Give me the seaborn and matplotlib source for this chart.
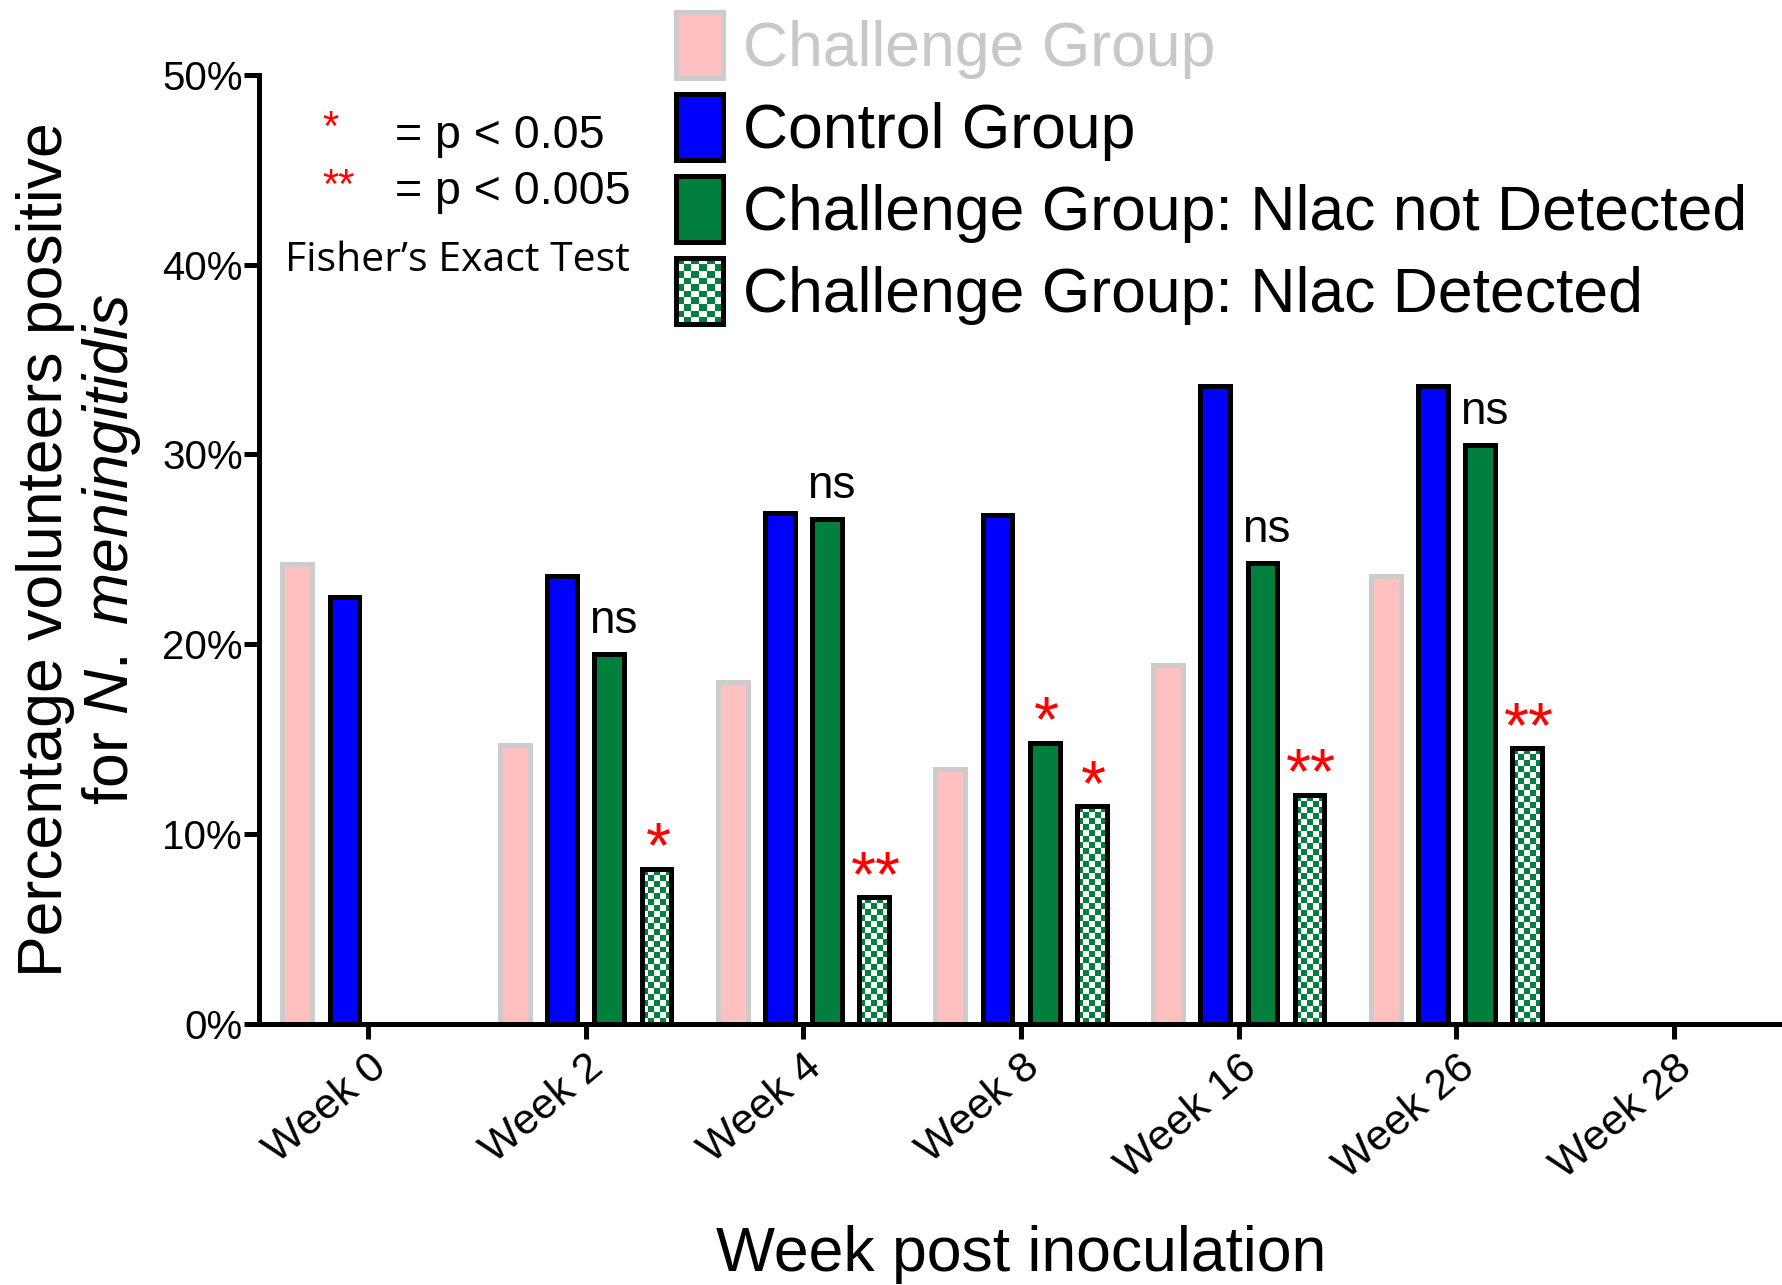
import numpy as np
import pandas as pd
import seaborn as sns
import matplotlib.pyplot as plt
from matplotlib.patches import Patch, Rectangle
from matplotlib.legend_handler import HandlerBase
from matplotlib.colors import ListedColormap
from matplotlib.ticker import PercentFormatter

# data (percent positive)
weeks = ['Week 0', 'Week 2', 'Week 4', 'Week 8', 'Week 16', 'Week 26', 'Week 28']
groups = ['Challenge Group', 'Control Group',
          'Challenge Group: Nlac not Detected', 'Challenge Group: Nlac Detected']
challenge = [24.2, 14.7, 18.0, 13.4, 18.9, 23.6, np.nan]
control = [22.5, 23.6, 26.9, 26.8, 33.6, 33.6, np.nan]
nlac_not_detected = [np.nan, 19.5, 26.6, 14.8, 24.3, 30.5, np.nan]
nlac_detected = [np.nan, 8.15, 6.65, 11.45, 12.05, 14.5, np.nan]
sig_not_detected = ['', 'ns', 'ns', '*', 'ns', 'ns', '']
sig_detected = ['', '*', '**', '*', '**', '**', '']

green = '#00803C'
face = ['#FFC1BF', '#0000FF', green, 'white']
edge = ['#CCCCCC', 'black', 'black', 'black']
lw = 3.6

rows = []
for g, vals in zip(groups, [challenge, control, nlac_not_detected, nlac_detected]):
    for w, v in zip(weeks, vals):
        rows.append({'week': w, 'group': g, 'value': v})
df = pd.DataFrame(rows).dropna()

sns.set_style('ticks')
plt.rcParams['font.family'] = ['Liberation Sans', 'DejaVu Sans']
plt.rcParams['mathtext.fontset'] = 'custom'
plt.rcParams['mathtext.rm'] = 'Liberation Sans'
plt.rcParams['mathtext.it'] = 'Liberation Sans:italic'
for k in ['text.color', 'axes.labelcolor', 'xtick.color', 'ytick.color', 'axes.edgecolor']:
    plt.rcParams[k] = 'black'

fig = plt.figure(figsize=(17.83, 12.85), dpi=100)
ax = fig.add_axes([0.1454, 0.2035, 0.8546, 0.7381])

sns.barplot(data=df, x='week', y='value', hue='group', order=weeks, hue_order=groups,
            palette=dict(zip(groups, face)), saturation=1, width=0.867, gap=0.37,
            errorbar=None, legend=False, ax=ax)

ax.set_xlim(-0.5, 6.5)
ax.set_ylim(0, 50)

for cont, ec in zip(ax.containers, edge):
    for p in cont:
        p.set_edgecolor(ec)
        p.set_linewidth(lw)
        p.set_zorder(3)

# checkerboard fill for the "Nlac Detected" bars
cell = 6.0
checker_cmap = ListedColormap(['white', green])
for p in ax.containers[3]:
    x0, w, h = p.get_x(), p.get_width(), p.get_height()
    (px0, py0), (px1, py1) = ax.transData.transform([(x0, 0), (x0 + w, h)])
    ncol = max(1, int(round((px1 - px0) / cell)))
    nrow = max(1, int(round((py1 - py0) / cell)))
    board = np.indices((nrow, ncol)).sum(axis=0) % 2
    im = ax.imshow(board, extent=(x0, x0 + w, 0, h), cmap=checker_cmap,
                   interpolation='nearest', aspect='auto', origin='lower', zorder=2.8)
    im.set_clip_path(p)
    p.set_facecolor('none')

ax.set_xlim(-0.5, 6.5)
ax.set_ylim(0, 50)

# significance marks
def mark(container, labels):
    for p in container:
        i = int(round(p.get_x() + p.get_width() / 2))
        lab = labels[i]
        if not lab:
            continue
        xc = p.get_x() + p.get_width() / 2
        if lab == 'ns':
            ax.annotate(lab, (xc, p.get_height()), xytext=(3, 15), textcoords='offset points',
                        ha='center', va='baseline', fontsize=33, color='black')
        else:
            ax.annotate(lab, (xc, p.get_height()), xytext=(1, 1), textcoords='offset points',
                        ha='center', va='baseline', fontsize=46, color='red')

mark(ax.containers[2], sig_not_detected)
mark(ax.containers[3], sig_detected)

ax.yaxis.set_major_formatter(PercentFormatter(decimals=0))
ax.set_yticks(range(0, 51, 10))
sns.despine(ax=ax)
for s in ['left', 'bottom']:
    ax.spines[s].set_linewidth(lw)
    ax.spines[s].set_zorder(5)
ax.tick_params(axis='both', direction='out', length=11, width=lw, color='black')
ax.tick_params(axis='y', labelsize=29, pad=1)
ax.tick_params(axis='x', labelsize=31, pad=6)
for t in ax.get_xticklabels():
    t.set_rotation(40)
    t.set_ha('right')
    t.set_va('top')
    t.set_rotation_mode('anchor')

ax.set_xlabel('Week post inoculation', fontsize=45, labelpad=28)
ax.set_ylabel('Percentage volunteers positive\nfor $\\mathit{N.\\ meningitidis}$',
              fontsize=45, linespacing=1.1, labelpad=14)

# key for the significance symbols
fig.text(0.181, 0.891, '*', color='red', fontsize=30)
fig.text(0.2213, 0.885, '= p < 0.05', fontsize=33.5)
fig.text(0.181, 0.846, '**', color='red', fontsize=30)
fig.text(0.2213, 0.841, '= p < 0.005', fontsize=33.5)
fig.text(0.160, 0.789, 'Fisher\u2019s Exact Test', fontsize=29.5, family=['Open Sans', 'DejaVu Sans'])

# legend
class CheckerHandler(HandlerBase):
    def create_artists(self, legend, orig_handle, xdescent, ydescent, width, height, fontsize, trans):
        x0, y0 = -xdescent, -ydescent
        ncol, nrow = 6, 10
        cw, ch = width / ncol, height / nrow
        arts = [Rectangle((x0, y0), width, height, facecolor='white', edgecolor='none', transform=trans)]
        for i in range(nrow):
            for j in range(ncol):
                if (i + j) % 2:
                    arts.append(Rectangle((x0 + j * cw, y0 + i * ch), cw, ch,
                                          facecolor=green, edgecolor='none', transform=trans))
        arts.append(Rectangle((x0, y0), width, height, facecolor='none', edgecolor='black',
                              linewidth=lw, transform=trans))
        return arts

handles = [Patch(facecolor=f, edgecolor=e, linewidth=lw) for f, e in zip(face, edge)]
fig.legend(handles, groups, loc='upper left', bbox_to_anchor=(0.379, 0.991), frameon=False,
           fontsize=45, handlelength=0.75, handleheight=1.25, handletextpad=0.32,
           labelspacing=0.24, borderpad=0, borderaxespad=0,
           labelcolor=['#C8C8C8', 'black', 'black', 'black'],
           handler_map={handles[3]: CheckerHandler()})

fig.savefig('out.png', dpi=100)
